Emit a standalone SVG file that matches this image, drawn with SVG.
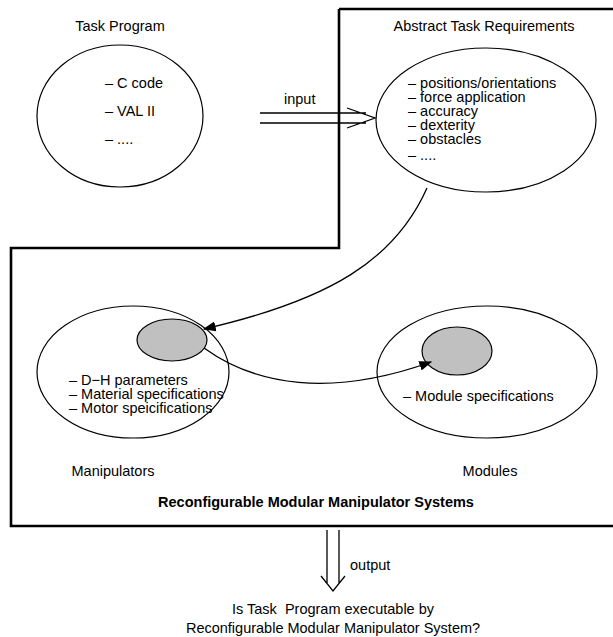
<svg xmlns="http://www.w3.org/2000/svg" width="613" height="637" viewBox="0 0 613 637">
<defs>
<style>
text{font-family:"Liberation Sans",Arial,sans-serif;font-size:14.5px;fill:#000}
.b{font-weight:bold}
.m{text-anchor:middle}
.e{fill:#fff;stroke:#000;stroke-width:1.2}
.g{fill:#c0c0c0;stroke:#000;stroke-width:1.2}
.ln{fill:none;stroke:#000;stroke-width:1.3}
</style>
<marker id="ah" viewBox="0 0 10 10" refX="9" refY="5" markerWidth="13" markerHeight="13" markerUnits="userSpaceOnUse" orient="auto">
<path d="M0,1.2 L10,5 L0,8.8 Z" fill="#000"/>
</marker>
</defs>
<rect width="613" height="637" fill="#fff"/>
<g id="boundary">
<path d="M339,9 H613 M613,526 H11 V248 H339 V9" fill="none" stroke="#000" stroke-width="2.6"/>
<text class="b m" x="316" y="507">Reconfigurable Modular Manipulator Systems</text>
</g>
<g id="task-program">
<ellipse class="e" cx="120" cy="116" rx="83" ry="71"/>
<text class="m" x="120" y="31">Task Program</text>
<text x="105" y="88">– C code</text>
<text x="105" y="116">– VAL II</text>
<text x="105" y="144">– ....</text>
</g>
<g id="abstract-task-requirements">
<ellipse class="e" cx="486" cy="120" rx="110" ry="72"/>
<text class="m" x="484" y="31">Abstract Task Requirements</text>
<text x="408" y="88">– positions/orientations</text>
<text x="408" y="102">– force application</text>
<text x="408" y="116">– accuracy</text>
<text x="408" y="130">– dexterity</text>
<text x="408" y="144">– obstacles</text>
<text x="408" y="160">– ....</text>
</g>
<g id="manipulators">
<ellipse class="e" cx="133" cy="372" rx="96" ry="66"/>
<ellipse class="g" cx="172" cy="340" rx="35" ry="21"/>
<text x="69" y="385">– D−H parameters</text>
<text x="69" y="399">– Material specifications</text>
<text x="69" y="413">– Motor speicifications</text>
<text class="m" x="113" y="476">Manipulators</text>
</g>
<g id="modules">
<ellipse class="e" cx="487" cy="372" rx="110" ry="66"/>
<ellipse class="g" cx="457" cy="351" rx="35" ry="24"/>
<text x="403" y="401">– Module specifications</text>
<text class="m" x="490" y="476">Modules</text>
</g>
<g id="connectors">
<path class="ln" d="M260,113 H366 M260,123 H366 M347,108 L375,118 L347,128"/>
<text x="284" y="104">input</text>
<path class="ln" d="M427,188 C395,260 330,300 204,329" marker-end="url(#ah)"/>
<path class="ln" d="M204,348 C255,385 330,398 431,362" marker-end="url(#ah)"/>
<path class="ln" d="M327,530 V584 M339,530 V584 M321,576 L333,591 L345,576"/>
<text x="350" y="570">output</text>
</g>
<g id="question">
<text class="m" x="333" y="614" xml:space="preserve">Is Task  Program executable by</text>
<text class="m" x="333" y="633">Reconfigurable Modular Manipulator System?</text>
</g>
</svg>
